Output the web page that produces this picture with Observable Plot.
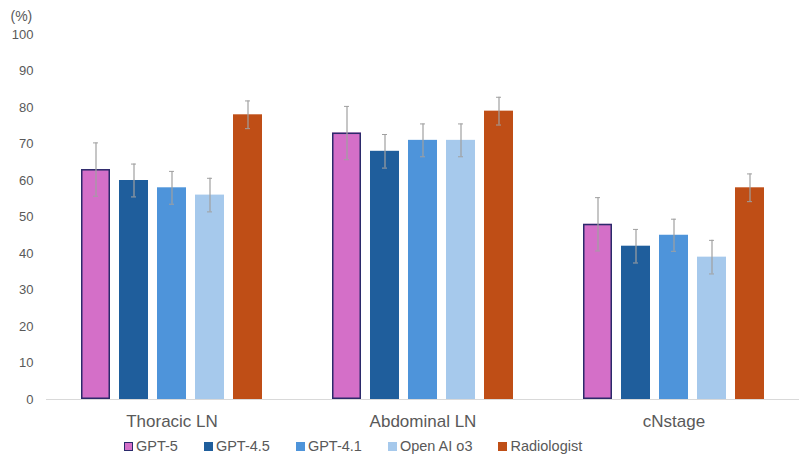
<!DOCTYPE html>
<html>
<head>
<meta charset="utf-8">
<script src="https://cdn.jsdelivr.net/npm/d3@7"></script>
<script src="https://cdn.jsdelivr.net/npm/@observablehq/plot@0.6"></script>
<style>
  body { margin: 0; background: #fff; font-family: "Liberation Sans", Arial, sans-serif; }
  #chart svg { display: block; }
  #legend { display: flex; align-items: center; padding-left: 124px; margin-top: 7px; font-size: 14.5px; line-height: 18px; color: #595959; }
  #legend .item { display: flex; align-items: center; margin-right: 26px; }
  #legend .sw { width: 9px; height: 9px; margin-right: 3px; box-sizing: border-box; }
</style>
</head>
<body>
<div id="chart"></div>
<div id="legend"></div>
<script>
const categories = ["Thoracic LN", "Abdominal LN", "cNstage"];
const models = ["GPT-5", "GPT-4.5", "GPT-4.1", "Open AI o3", "Radiologist"];
const colors = ["#D46FC8", "#1F5E9C", "#4E94DA", "#A6C9EC", "#BF4E16"];
const yTicks = [0, 10, 20, 30, 40, 50, 60, 70, 80, 90, 100];
const yUnit = "(%)";

const gpt5 = [63, 73, 48];
const gpt5Err = [7.3, 7.3, 7.3];
const gpt45 = [60, 68, 42];
const gpt45Err = [4.5, 4.6, 4.6];
const gpt41 = [58, 71, 45];
const gpt41Err = [4.5, 4.5, 4.4];
const o3 = [56, 71, 39];
const o3Err = [4.6, 4.5, 4.6];
const radiologist = [78, 79, 58];
const radiologistErr = [3.8, 3.8, 3.8];

const series = [gpt5, gpt45, gpt41, o3, radiologist];
const errors = [gpt5Err, gpt45Err, gpt41Err, o3Err, radiologistErr];

const data = [];
models.forEach((m, i) => {
  categories.forEach((c, j) => {
    data.push({ model: m, category: c, value: series[i][j], err: errors[i][j] });
  });
});

const errColor = "#A0A0A0";

const chart = Plot.plot({
  width: 800,
  height: 430,
  marginTop: 34,
  marginBottom: 31,
  marginLeft: 46,
  marginRight: 1,
  style: { fontFamily: "'Liberation Sans', Arial, sans-serif", color: "#595959", background: "#fff" },
  fx: { domain: categories, padding: 0, axis: null },
  x: { domain: models, paddingInner: 0.227, paddingOuter: 0.85, axis: null },
  y: { domain: [0, 100], axis: null },
  color: { domain: models, range: colors },
  marks: [
    Plot.axisY({ ticks: yTicks, tickSize: 0, tickPadding: 13, fontSize: 13, label: null }),
    Plot.text([yUnit], { facet: "super", frameAnchor: "top-left", text: d => d, dx: -36, dy: -23, fontSize: 14, textAnchor: "start", fill: "#595959" }),
    Plot.axisFx({ anchor: "bottom", label: null, tickSize: 0, tickPadding: 15, fontSize: 17 }),
    Plot.barY(data, { fx: "category", x: "model", y: "value", fill: "model" }),
    Plot.barY(data.filter(d => d.model === "GPT-5"), { fx: "category", x: "model", y: "value", fill: "none", stroke: "#2B2A6B", strokeWidth: 1.5, inset: 0.75 }),
    Plot.ruleY([0], { stroke: "#D9D9D9", strokeWidth: 1 }),
    Plot.ruleX(data, { fx: "category", x: "model", y1: d => d.value - d.err, y2: d => d.value + d.err, stroke: errColor, strokeWidth: 1.2 }),
    Plot.tickY(data, { fx: "category", x: "model", y: d => d.value + d.err, stroke: errColor, strokeWidth: 1, insetLeft: 12, insetRight: 12 }),
    Plot.tickY(data, { fx: "category", x: "model", y: d => d.value - d.err, stroke: errColor, strokeWidth: 1, insetLeft: 12, insetRight: 12 })
  ]
});
document.getElementById("chart").appendChild(chart);

const legend = document.getElementById("legend");
models.forEach((m, i) => {
  const item = document.createElement("div");
  item.className = "item";
  const sw = document.createElement("span");
  sw.className = "sw";
  sw.style.background = colors[i];
  if (m === "GPT-5") sw.style.border = "1.5px solid #2B2A6B";
  const t = document.createElement("span");
  t.textContent = m;
  item.appendChild(sw);
  item.appendChild(t);
  legend.appendChild(item);
});
</script>
</body>
</html>
